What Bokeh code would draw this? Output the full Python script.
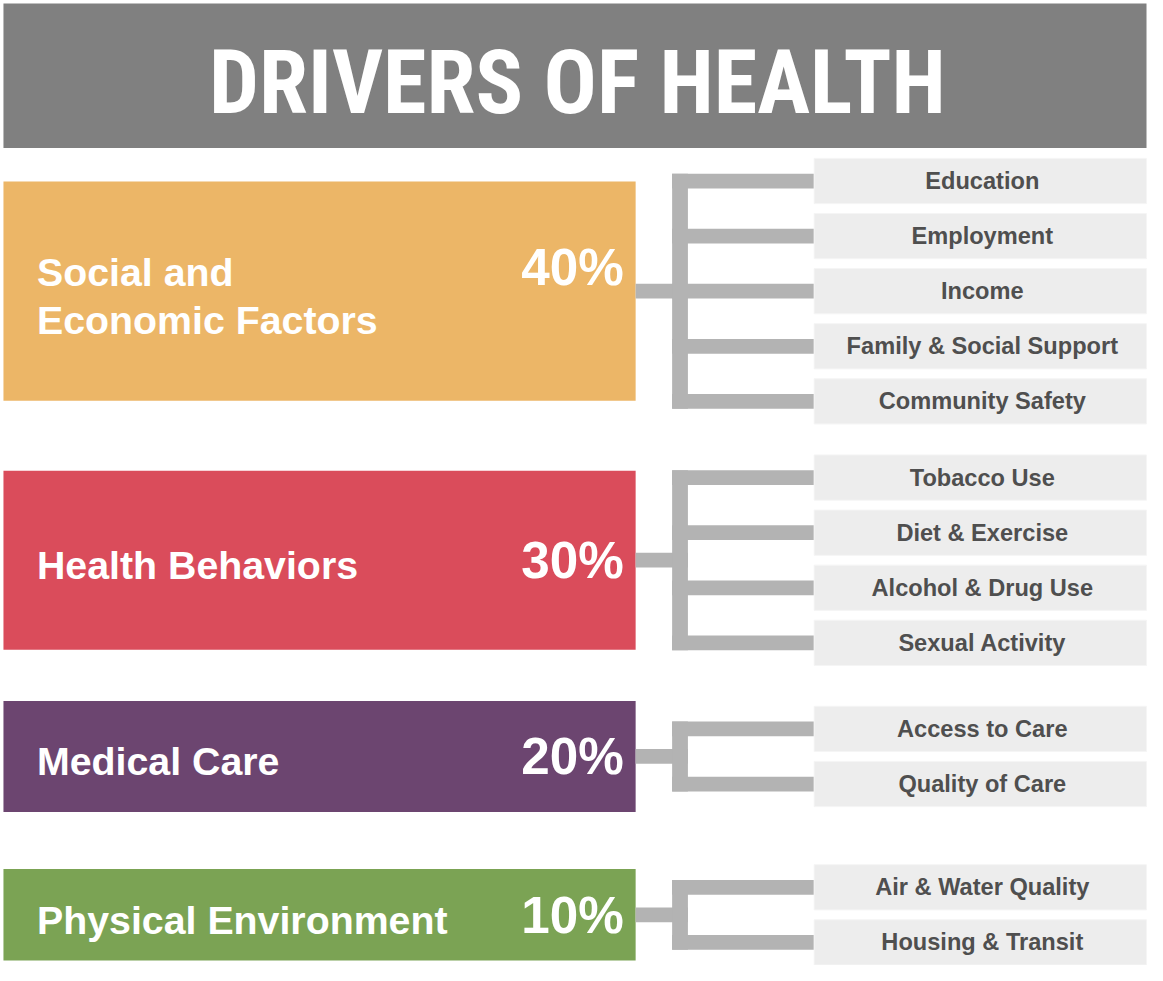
from bokeh.plotting import figure
from bokeh.models import Range1d, ColumnDataSource
from bokeh.core.properties import value
from bokeh.embed import file_html
from bokeh.resources import INLINE

# ---------------- data ----------------
title_text = "DRIVERS OF HEALTH"
categories = ["Social and\nEconomic Factors", "Health Behaviors", "Medical Care", "Physical Environment"]
shares = [40, 30, 20, 10]
factors = [
    ["Education", "Employment", "Income", "Family & Social Support", "Community Safety"],
    ["Tobacco Use", "Diet & Exercise", "Alcohol & Drug Use", "Sexual Activity"],
    ["Access to Care", "Quality of Care"],
    ["Air & Water Quality", "Housing & Transit"],
]
cat_colors = ["#ECB667", "#DA4C5B", "#6C4570", "#7BA354"]

# ---------------- layout (reference pixel space) ----------------
W, H = 1163, 981
FIG_W, FIG_H = 1147, 965
k = FIG_H / H
box_left, box_right = 3, 644
box_top = [184, 478, 712, 883]
box_bottom = [407, 660, 825, 976]
item_left, item_right = 825, 1162
item_pitch, item_h = 56, 46
bar_l, bar_r = 681, 697
thick = 15

p = figure(width=FIG_W, height=FIG_H, x_range=Range1d(0, W), y_range=Range1d(H, 0),
           output_backend="svg", toolbar_location=None, min_border=0,
           outline_line_color=None, background_fill_color="white",
           border_fill_color="white")
p.axis.visible = False
p.grid.visible = False

# title bar
p.quad(left=[3], right=[1162], top=[3], bottom=[150], fill_color="#808080", line_color=None)
p.text(x=[585], y=[84], text=[title_text], text_color="white",
       text_font=value("Roboto Condensed, DejaVu Sans Condensed, Liberation Sans"),
       text_font_style="bold",
       text_font_size=f"{90*k:.1f}px", text_align="center", text_baseline="middle")

boxes = dict(left=[], right=[], top=[], bottom=[], color=[])
conn = dict(left=[], right=[], top=[], bottom=[])
items = dict(left=[], right=[], top=[], bottom=[])
item_txt = dict(x=[], y=[], text=[])
cat_txt = dict(x=[], y=[], text=[])
pct_txt = dict(x=[], y=[], text=[])

for i, (cat, share, fl, col) in enumerate(zip(categories, shares, factors, cat_colors)):
    t, b = box_top[i], box_bottom[i]
    cy = (t + b) / 2
    boxes["left"].append(box_left); boxes["right"].append(box_right)
    boxes["top"].append(t); boxes["bottom"].append(b); boxes["color"].append(col)
    lines = cat.split("\n")
    n_l = len(lines)
    for j, ln in enumerate(lines):
        cat_txt["x"].append(37)
        cat_txt["y"].append(cy + 5 + (j - (n_l - 1) / 2) * 48.5)
        cat_txt["text"].append(ln)
    pct_txt["x"].append(632)
    pct_txt["y"].append(cy + 5 - (n_l - 1) / 2 * 48.5 - 4.5)
    pct_txt["text"].append(f"{share}%")
    n = len(fl)
    centers = [cy + (j - (n - 1) / 2) * item_pitch for j in range(n)]
    conn["left"].append(box_right); conn["right"].append(bar_r)
    conn["top"].append(cy - thick / 2); conn["bottom"].append(cy + thick / 2)
    conn["left"].append(bar_l); conn["right"].append(bar_r)
    conn["top"].append(centers[0] - thick / 2); conn["bottom"].append(centers[-1] + thick / 2)
    for c, name in zip(centers, fl):
        conn["left"].append(bar_l); conn["right"].append(item_left)
        conn["top"].append(c - thick / 2); conn["bottom"].append(c + thick / 2)
        items["left"].append(item_left); items["right"].append(item_right)
        items["top"].append(c - item_h / 2); items["bottom"].append(c + item_h / 2)
        item_txt["x"].append((item_left + item_right) / 2 + 2)
        item_txt["y"].append(c)
        item_txt["text"].append(name)

p.quad(source=ColumnDataSource(boxes), left="left", right="right", top="top", bottom="bottom",
       fill_color="color", line_color=None)
p.quad(source=ColumnDataSource(conn), left="left", right="right", top="top", bottom="bottom",
       fill_color="#B3B3B3", line_color=None)
p.quad(source=ColumnDataSource(items), left="left", right="right", top="top", bottom="bottom",
       fill_color="#EDEDED", line_color="#F5F5F5", line_width=1)

p.text(source=ColumnDataSource(cat_txt), x="x", y="y", text="text", text_color="white",
       text_font=value("Liberation Sans"), text_font_style="bold",
       text_font_size=f"{40*k:.1f}px", text_align="left", text_baseline="middle")
p.text(source=ColumnDataSource(pct_txt), x="x", y="y", text="text", text_color="white",
       text_font=value("Liberation Sans"), text_font_style="bold",
       text_font_size=f"{52*k:.1f}px", text_align="right", text_baseline="middle")
p.text(source=ColumnDataSource(item_txt), x="x", y="y", text="text", text_color="#4F4F4F",
       text_font=value("Liberation Sans"), text_font_style="bold",
       text_font_size=f"{24*k:.1f}px", text_align="center", text_baseline="middle")

open("out.html", "w").write(file_html(p, INLINE))
